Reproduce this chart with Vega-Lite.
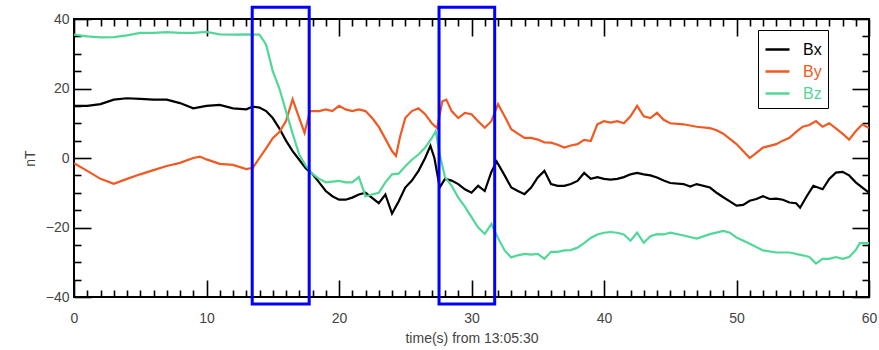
{
  "$schema": "https://vega.github.io/schema/vega-lite/v6.json",
  "width": 795,
  "height": 278,
  "autosize": {"type": "none"},
  "padding": {"left": 74, "top": 19, "right": 10, "bottom": 53},
  "background": "white",
  "config": {
    "view": {"stroke": "#000000", "strokeWidth": 2},
    "font": "Liberation Sans",
    "axis": {"domain": false, "grid": false, "tickColor": "#000000", "tickWidth": 1.6, "labelColor": "#444444", "labelFontSize": 14, "titleFontSize": 14, "titleFontWeight": "normal", "titleColor": "#444444", "labelFont": "Liberation Sans", "titleFont": "Liberation Sans"}
  },
  "datasets": {
    "boxes": [
      {"x": 13.45, "x2": 17.75, "y": 43.4, "y2": -42},
      {"x": 27.55, "x2": 31.75, "y": 43.4, "y2": -42}
    ],
    "field": [
      {"t":0,"c":"Bx","v":15},{"t":1,"c":"Bx","v":15},{"t":2,"c":"Bx","v":15.5},{"t":3,"c":"Bx","v":16.8},{"t":4,"c":"Bx","v":17.2},{"t":5,"c":"Bx","v":17},{"t":6,"c":"Bx","v":16.8},{"t":7,"c":"Bx","v":16.8},{"t":8,"c":"Bx","v":15.8},{"t":9,"c":"Bx","v":14.3},{"t":10,"c":"Bx","v":15},{"t":11,"c":"Bx","v":15.3},{"t":12,"c":"Bx","v":14.3},{"t":13,"c":"Bx","v":14},{"t":13.5,"c":"Bx","v":14.8},{"t":14,"c":"Bx","v":14.5},{"t":14.5,"c":"Bx","v":13.5},{"t":15,"c":"Bx","v":11.5},{"t":15.5,"c":"Bx","v":8.5},{"t":16,"c":"Bx","v":5},{"t":16.5,"c":"Bx","v":2},{"t":17,"c":"Bx","v":-0.5},{"t":17.5,"c":"Bx","v":-3},{"t":18,"c":"Bx","v":-4.6},{"t":18.5,"c":"Bx","v":-7},{"t":19,"c":"Bx","v":-9.5},{"t":19.5,"c":"Bx","v":-11},{"t":20,"c":"Bx","v":-12},{"t":20.5,"c":"Bx","v":-12},{"t":21,"c":"Bx","v":-11.4},{"t":21.5,"c":"Bx","v":-10.5},{"t":22,"c":"Bx","v":-10},{"t":22.5,"c":"Bx","v":-11.5},{"t":23,"c":"Bx","v":-13},{"t":23.5,"c":"Bx","v":-10.5},{"t":24,"c":"Bx","v":-16},{"t":24.5,"c":"Bx","v":-12.5},{"t":25,"c":"Bx","v":-8.5},{"t":25.5,"c":"Bx","v":-6.5},{"t":26,"c":"Bx","v":-3.7},{"t":26.5,"c":"Bx","v":0},{"t":26.9,"c":"Bx","v":3.5},{"t":27.2,"c":"Bx","v":0},{"t":27.6,"c":"Bx","v":-8.5},{"t":28,"c":"Bx","v":-6},{"t":28.5,"c":"Bx","v":-6.5},{"t":29,"c":"Bx","v":-7.5},{"t":29.5,"c":"Bx","v":-9},{"t":30,"c":"Bx","v":-10},{"t":30.5,"c":"Bx","v":-8},{"t":31,"c":"Bx","v":-9.5},{"t":31.5,"c":"Bx","v":-4},{"t":31.9,"c":"Bx","v":-1},{"t":32.5,"c":"Bx","v":-5},{"t":33,"c":"Bx","v":-8.5},{"t":33.5,"c":"Bx","v":-9.5},{"t":34,"c":"Bx","v":-10.4},{"t":34.5,"c":"Bx","v":-8.5},{"t":35,"c":"Bx","v":-5.6},{"t":35.5,"c":"Bx","v":-3.7},{"t":36,"c":"Bx","v":-7.5},{"t":36.5,"c":"Bx","v":-8},{"t":37,"c":"Bx","v":-8},{"t":37.5,"c":"Bx","v":-7.5},{"t":38,"c":"Bx","v":-6.6},{"t":38.5,"c":"Bx","v":-4.3},{"t":39,"c":"Bx","v":-6},{"t":39.5,"c":"Bx","v":-5.5},{"t":40,"c":"Bx","v":-6},{"t":40.5,"c":"Bx","v":-6.2},{"t":41,"c":"Bx","v":-6},{"t":41.5,"c":"Bx","v":-5.5},{"t":42,"c":"Bx","v":-4.7},{"t":42.5,"c":"Bx","v":-4.3},{"t":43,"c":"Bx","v":-4.7},{"t":43.5,"c":"Bx","v":-5},{"t":44,"c":"Bx","v":-5.6},{"t":44.5,"c":"Bx","v":-6.5},{"t":45,"c":"Bx","v":-7.2},{"t":46,"c":"Bx","v":-7.5},{"t":46.5,"c":"Bx","v":-8.2},{"t":47,"c":"Bx","v":-7.5},{"t":48,"c":"Bx","v":-8.5},{"t":48.5,"c":"Bx","v":-10},{"t":49,"c":"Bx","v":-11.3},{"t":49.5,"c":"Bx","v":-12.5},{"t":50,"c":"Bx","v":-13.7},{"t":50.5,"c":"Bx","v":-13.5},{"t":51,"c":"Bx","v":-12.3},{"t":51.5,"c":"Bx","v":-11.8},{"t":52,"c":"Bx","v":-11},{"t":52.5,"c":"Bx","v":-11.8},{"t":53,"c":"Bx","v":-11.7},{"t":53.5,"c":"Bx","v":-12},{"t":54,"c":"Bx","v":-12.8},{"t":54.5,"c":"Bx","v":-13},{"t":54.8,"c":"Bx","v":-14.3},{"t":55.3,"c":"Bx","v":-11},{"t":55.8,"c":"Bx","v":-8},{"t":56.5,"c":"Bx","v":-9},{"t":57,"c":"Bx","v":-6},{"t":57.5,"c":"Bx","v":-4.2},{"t":58,"c":"Bx","v":-4},{"t":58.5,"c":"Bx","v":-5},{"t":59,"c":"Bx","v":-7},{"t":59.5,"c":"Bx","v":-8.5},{"t":60,"c":"Bx","v":-10},
      {"t":0,"c":"By","v":-1.5},{"t":1,"c":"By","v":-3.7},{"t":2,"c":"By","v":-6},{"t":3,"c":"By","v":-7.4},{"t":4,"c":"By","v":-6},{"t":5,"c":"By","v":-4.7},{"t":6,"c":"By","v":-3.5},{"t":7,"c":"By","v":-2.3},{"t":8,"c":"By","v":-1.4},{"t":9,"c":"By","v":0},{"t":9.5,"c":"By","v":0.4},{"t":10,"c":"By","v":-0.4},{"t":11,"c":"By","v":-1.7},{"t":12,"c":"By","v":-2},{"t":13,"c":"By","v":-3.2},{"t":13.5,"c":"By","v":-2.8},{"t":14,"c":"By","v":0},{"t":14.5,"c":"By","v":2.8},{"t":15,"c":"By","v":5.7},{"t":15.5,"c":"By","v":7.5},{"t":16,"c":"By","v":10.6},{"t":16.5,"c":"By","v":16.9},{"t":17,"c":"By","v":11.5},{"t":17.4,"c":"By","v":7.2},{"t":17.8,"c":"By","v":13.5},{"t":18.5,"c":"By","v":13.5},{"t":19,"c":"By","v":14},{"t":19.5,"c":"By","v":13.5},{"t":20,"c":"By","v":15},{"t":20.5,"c":"By","v":14},{"t":21,"c":"By","v":13.5},{"t":21.5,"c":"By","v":14},{"t":22,"c":"By","v":13.5},{"t":22.5,"c":"By","v":11.5},{"t":23,"c":"By","v":9},{"t":23.5,"c":"By","v":5.5},{"t":24,"c":"By","v":2},{"t":24.3,"c":"By","v":0.6},{"t":24.6,"c":"By","v":6},{"t":25,"c":"By","v":11.5},{"t":25.5,"c":"By","v":13.5},{"t":26,"c":"By","v":14.3},{"t":26.5,"c":"By","v":12.6},{"t":27,"c":"By","v":10},{"t":27.4,"c":"By","v":8.6},{"t":27.8,"c":"By","v":16.3},{"t":28.1,"c":"By","v":16.8},{"t":28.5,"c":"By","v":13.5},{"t":29,"c":"By","v":11.5},{"t":29.5,"c":"By","v":13},{"t":30,"c":"By","v":12.6},{"t":30.5,"c":"By","v":10.6},{"t":31,"c":"By","v":8.7},{"t":31.5,"c":"By","v":10.6},{"t":32,"c":"By","v":15.5},{"t":32.5,"c":"By","v":12},{"t":33,"c":"By","v":8.3},{"t":33.5,"c":"By","v":7},{"t":34,"c":"By","v":5.8},{"t":34.5,"c":"By","v":5.8},{"t":35,"c":"By","v":5.3},{"t":35.5,"c":"By","v":4.5},{"t":36,"c":"By","v":4.4},{"t":36.5,"c":"By","v":3.8},{"t":37,"c":"By","v":3},{"t":37.5,"c":"By","v":3.6},{"t":38,"c":"By","v":4},{"t":38.5,"c":"By","v":5.2},{"t":39,"c":"By","v":4.9},{"t":39.5,"c":"By","v":9.7},{"t":40,"c":"By","v":10.6},{"t":40.5,"c":"By","v":10.2},{"t":41,"c":"By","v":10.6},{"t":41.5,"c":"By","v":10},{"t":42,"c":"By","v":12},{"t":42.5,"c":"By","v":15},{"t":43,"c":"By","v":12},{"t":43.5,"c":"By","v":11.5},{"t":44,"c":"By","v":13},{"t":44.5,"c":"By","v":11},{"t":45,"c":"By","v":10},{"t":46,"c":"By","v":9.7},{"t":47,"c":"By","v":9},{"t":48,"c":"By","v":8.6},{"t":48.5,"c":"By","v":8},{"t":49,"c":"By","v":7},{"t":49.5,"c":"By","v":5.5},{"t":50,"c":"By","v":4},{"t":50.5,"c":"By","v":2},{"t":51,"c":"By","v":0},{"t":51.5,"c":"By","v":1.5},{"t":52,"c":"By","v":3},{"t":52.5,"c":"By","v":3.5},{"t":53,"c":"By","v":4},{"t":53.5,"c":"By","v":5},{"t":54,"c":"By","v":5.8},{"t":54.5,"c":"By","v":7.5},{"t":55,"c":"By","v":9},{"t":55.5,"c":"By","v":9.5},{"t":56,"c":"By","v":10.6},{"t":56.5,"c":"By","v":9},{"t":57,"c":"By","v":10},{"t":57.5,"c":"By","v":8.5},{"t":58,"c":"By","v":7},{"t":58.5,"c":"By","v":5.3},{"t":59,"c":"By","v":7.7},{"t":59.5,"c":"By","v":9.7},{"t":60,"c":"By","v":8.6},
      {"t":0,"c":"Bz","v":35.5},{"t":1,"c":"Bz","v":35},{"t":2,"c":"Bz","v":34.7},{"t":3,"c":"Bz","v":34.8},{"t":4,"c":"Bz","v":35.3},{"t":5,"c":"Bz","v":36},{"t":6,"c":"Bz","v":36},{"t":7,"c":"Bz","v":36.2},{"t":8,"c":"Bz","v":36},{"t":9,"c":"Bz","v":36},{"t":10,"c":"Bz","v":36.3},{"t":11,"c":"Bz","v":35.6},{"t":12,"c":"Bz","v":35.5},{"t":13,"c":"Bz","v":35.6},{"t":14,"c":"Bz","v":35.5},{"t":14.5,"c":"Bz","v":32.6},{"t":15,"c":"Bz","v":25},{"t":15.5,"c":"Bz","v":20},{"t":16,"c":"Bz","v":13.5},{"t":16.5,"c":"Bz","v":7},{"t":17,"c":"Bz","v":1},{"t":17.5,"c":"Bz","v":-2.3},{"t":18,"c":"Bz","v":-4.6},{"t":18.5,"c":"Bz","v":-6},{"t":19,"c":"Bz","v":-7},{"t":19.5,"c":"Bz","v":-6.8},{"t":20,"c":"Bz","v":-6.6},{"t":20.5,"c":"Bz","v":-7},{"t":21,"c":"Bz","v":-7},{"t":21.5,"c":"Bz","v":-5.5},{"t":22,"c":"Bz","v":-11},{"t":22.5,"c":"Bz","v":-10.5},{"t":23,"c":"Bz","v":-10},{"t":23.5,"c":"Bz","v":-7},{"t":24,"c":"Bz","v":-4.7},{"t":24.5,"c":"Bz","v":-4.5},{"t":25,"c":"Bz","v":-2.4},{"t":25.5,"c":"Bz","v":-0.5},{"t":26,"c":"Bz","v":1},{"t":26.5,"c":"Bz","v":3},{"t":27,"c":"Bz","v":5.7},{"t":27.3,"c":"Bz","v":7.7},{"t":27.6,"c":"Bz","v":1},{"t":28,"c":"Bz","v":-5.5},{"t":28.5,"c":"Bz","v":-8},{"t":29,"c":"Bz","v":-11.4},{"t":29.5,"c":"Bz","v":-14},{"t":30,"c":"Bz","v":-17},{"t":30.5,"c":"Bz","v":-20},{"t":31,"c":"Bz","v":-21.8},{"t":31.5,"c":"Bz","v":-19},{"t":32,"c":"Bz","v":-23},{"t":32.5,"c":"Bz","v":-26.6},{"t":33,"c":"Bz","v":-28.6},{"t":33.5,"c":"Bz","v":-28},{"t":34,"c":"Bz","v":-27.6},{"t":34.5,"c":"Bz","v":-27.8},{"t":35,"c":"Bz","v":-27.6},{"t":35.5,"c":"Bz","v":-29},{"t":36,"c":"Bz","v":-27},{"t":36.5,"c":"Bz","v":-27},{"t":37,"c":"Bz","v":-26.6},{"t":37.5,"c":"Bz","v":-26.5},{"t":38,"c":"Bz","v":-25.8},{"t":38.5,"c":"Bz","v":-24.5},{"t":39,"c":"Bz","v":-23},{"t":39.5,"c":"Bz","v":-22},{"t":40,"c":"Bz","v":-21.5},{"t":40.5,"c":"Bz","v":-21.3},{"t":41,"c":"Bz","v":-21.5},{"t":41.5,"c":"Bz","v":-22},{"t":42,"c":"Bz","v":-23.8},{"t":42.5,"c":"Bz","v":-21.5},{"t":43,"c":"Bz","v":-24.4},{"t":43.5,"c":"Bz","v":-22.5},{"t":44,"c":"Bz","v":-21.9},{"t":44.5,"c":"Bz","v":-22},{"t":45,"c":"Bz","v":-21.5},{"t":46,"c":"Bz","v":-22.3},{"t":47,"c":"Bz","v":-23.2},{"t":48,"c":"Bz","v":-21.9},{"t":49,"c":"Bz","v":-21},{"t":49.5,"c":"Bz","v":-21.5},{"t":50,"c":"Bz","v":-22.9},{"t":51,"c":"Bz","v":-24.7},{"t":52,"c":"Bz","v":-26.6},{"t":53,"c":"Bz","v":-27.2},{"t":54,"c":"Bz","v":-27.2},{"t":55,"c":"Bz","v":-28},{"t":55.5,"c":"Bz","v":-28.5},{"t":56,"c":"Bz","v":-30.4},{"t":56.5,"c":"Bz","v":-29},{"t":57,"c":"Bz","v":-29},{"t":57.5,"c":"Bz","v":-28.5},{"t":58,"c":"Bz","v":-29},{"t":58.5,"c":"Bz","v":-28.5},{"t":59,"c":"Bz","v":-26.5},{"t":59.3,"c":"Bz","v":-24.5},{"t":60,"c":"Bz","v":-24.5}
    ]
  },
  "resolve": {"axis": {"x": "independent", "y": "independent"}},
  "layer": [
    {
      "data": {"name": "field"},
      "mark": {"type": "line", "strokeWidth": 2.2, "interpolate": "linear", "clip": true},
      "encoding": {
        "x": {"field": "t", "type": "quantitative", "scale": {"domain": [0, 60], "nice": false, "zero": false},
          "axis": {"orient": "bottom", "values": [0, 10, 20, 30, 40, 50, 60], "tickSize": -17, "labelPadding": 31, "labelFlush": false, "title": "time(s) from 13:05:30", "titlePadding": 6}},
        "y": {"field": "v", "type": "quantitative", "scale": {"domain": [-40, 40], "nice": false, "zero": false},
          "axis": {"orient": "left", "values": [-40, -20, 0, 20, 40], "tickSize": -17, "labelPadding": 22, "title": "nT", "titlePadding": 8}},
        "color": {"field": "c", "type": "nominal",
          "scale": {"domain": ["Bx", "By", "Bz"], "range": ["#000000", "#F05A22", "#52D896"]},
          "legend": {"title": null, "orient": "none", "legendX": 684, "legendY": 11, "direction": "vertical",
            "symbolType": "stroke", "symbolSize": 576, "symbolStrokeWidth": 2.5, "labelFontSize": 16, "labelFont": "Liberation Sans",
            "strokeColor": "#000000", "padding": 6, "rowPadding": 0, "labelOffset": 12, "labelLimit": 0,
            "encode": {"labels": {"update": {"fill": {"scale": "color", "field": "value"}}}}}}
      }
    },
    {
      "data": {"name": "boxes"},
      "mark": {"type": "rect", "fill": null, "fillOpacity": 0, "stroke": "#0000FF", "strokeWidth": 3, "clip": false},
      "encoding": {
        "x": {"field": "x", "type": "quantitative", "axis": {"orient": "bottom", "values": [1,2,3,4,5,6,7,8,9,11,12,13,14,15,16,17,18,19,21,22,23,24,25,26,27,28,29,31,32,33,34,35,36,37,38,39,41,42,43,44,45,46,47,48,49,51,52,53,54,55,56,57,58,59], "tickSize": -7, "labels": false, "title": null}},
        "x2": {"field": "x2"},
        "y": {"field": "y", "type": "quantitative", "axis": {"orient": "left", "values": [-35,-30,-25,-15,-10,-5,5,10,15,25,30,35], "tickSize": -7, "labels": false, "title": null}},
        "y2": {"field": "y2"}
      }
    },
    {
      "data": {"name": "boxes"},
      "mark": {"type": "point", "opacity": 0},
      "encoding": {
        "x": {"field": "x", "type": "quantitative", "axis": {"orient": "top", "values": [0, 10, 20, 30, 40, 50, 60], "tickSize": -17, "labels": false, "title": null}},
        "y": {"field": "y2", "type": "quantitative", "axis": {"orient": "right", "values": [-40, -20, 0, 20, 40], "tickSize": -17, "labels": false, "title": null}}
      }
    },
    {
      "data": {"name": "boxes"},
      "mark": {"type": "point", "opacity": 0},
      "encoding": {
        "x": {"field": "x2", "type": "quantitative", "axis": {"orient": "top", "values": [1,2,3,4,5,6,7,8,9,11,12,13,14,15,16,17,18,19,21,22,23,24,25,26,27,28,29,31,32,33,34,35,36,37,38,39,41,42,43,44,45,46,47,48,49,51,52,53,54,55,56,57,58,59], "tickSize": -7, "labels": false, "title": null}},
        "y": {"field": "y2", "type": "quantitative", "axis": {"orient": "right", "values": [-35,-30,-25,-15,-10,-5,5,10,15,25,30,35], "tickSize": -7, "labels": false, "title": null}}
      }
    }
  ]
}
